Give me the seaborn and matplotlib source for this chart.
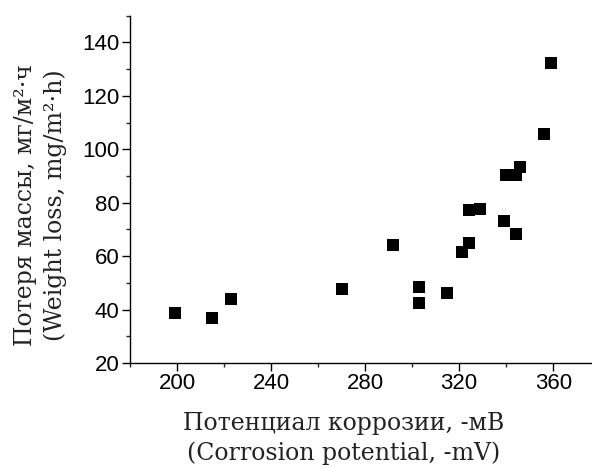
import matplotlib
matplotlib.use("Agg")
import matplotlib.pyplot as plt
import seaborn as sns
import pandas as pd
from matplotlib.ticker import MultipleLocator

# Corrosion potential (-mV) and weight loss (mg/m2·h) per sample
potential = [199, 215, 223, 270, 292, 303, 303, 315, 321, 324, 324, 329,
             339, 344, 340, 344, 346, 356, 359]
weight_loss = [38.8, 36.9, 43.9, 47.6, 64.0, 48.6, 42.3, 46.1, 61.6, 64.9,
               77.2, 77.7, 73.1, 68.2, 90.3, 90.3, 93.4, 105.8, 132.3]

x_ticks = [200, 240, 280, 320, 360]
y_ticks = [20, 40, 60, 80, 100, 120, 140]

xlabel_text = "Потенциал коррозии, -мВ\n(Corrosion potential, -mV)"
ylabel_text = "Потеря массы, мг/м²·ч\n(Weight loss, mg/m²·h)"

df = pd.DataFrame({"potential": potential, "weight_loss": weight_loss})

sns.set_style("ticks")
plt.rcParams["font.family"] = ["Liberation Sans", "DejaVu Sans"]

fig = plt.figure(figsize=(5.92, 4.68), dpi=100)
ax = fig.add_axes([130 / 592, 105 / 468, 462 / 592, 347.3 / 468])

sns.scatterplot(data=df, x="potential", y="weight_loss", marker="s",
                s=66, color="black", linewidth=0, ax=ax)

ax.set_xlim(180, 376.5)
ax.set_ylim(20, 150)
ax.set_xticks(x_ticks)
ax.set_yticks(y_ticks)
ax.xaxis.set_minor_locator(MultipleLocator(20))
ax.yaxis.set_minor_locator(MultipleLocator(10))

for side in ("top", "right"):
    ax.spines[side].set_visible(False)
for side in ("left", "bottom"):
    ax.spines[side].set_linewidth(1.0)
    ax.spines[side].set_color("black")

ax.tick_params(axis="both", which="major", direction="out", length=5.5,
               width=1.0, labelsize=16, pad=2, colors="black")
ax.tick_params(axis="both", which="minor", direction="out", length=3,
               width=1.0)

serif = {"family": "DejaVu Serif", "size": 17, "color": "#222222"}
ax.set_xlabel(xlabel_text, fontdict=serif, va="center", linespacing=1.38)
ax.xaxis.set_label_coords(0.463, -0.218)
ax.set_ylabel(ylabel_text, fontdict=serif, va="center", linespacing=1.38)
ax.yaxis.set_label_coords(-0.194, 0.455)

fig.savefig("out.png", dpi=100)
